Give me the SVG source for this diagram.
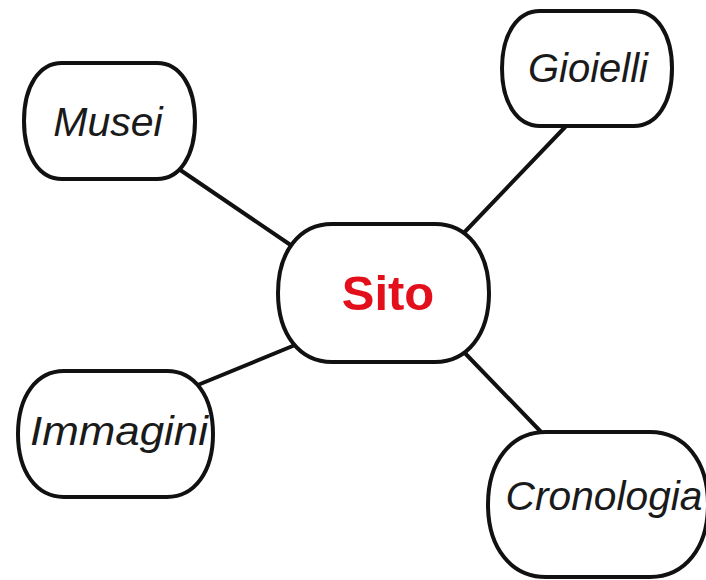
<svg xmlns="http://www.w3.org/2000/svg" width="706" height="580" viewBox="0 0 706 580">
  <style>
    .link { stroke: #111; stroke-width: 4; fill: none; stroke-linecap: round; }
    .bubble { fill: #fff; stroke: #111; stroke-width: 4; }
    .label { font-family: "Liberation Sans", Arial, sans-serif; font-style: italic; font-size: 41px; fill: #1a1a1a; text-anchor: middle; }
    .hub { font-family: "Liberation Sans", Arial, sans-serif; font-weight: bold; font-size: 49px; fill: #e3101c; text-anchor: middle; }
  </style>
  <rect width="706" height="580" fill="#fff"/>
  <g id="connectors">
    <line class="link" x1="170" y1="163" x2="295" y2="248"/>
    <line class="link" x1="568" y1="124" x2="458" y2="239"/>
    <line class="link" x1="188" y1="389" x2="300" y2="343"/>
    <line class="link" x1="543" y1="434" x2="460" y2="348"/>
  </g>
  <!-- bubbles: flat top/bottom with rounded, slightly full elliptic ends -->
  <g id="sito">
    <path class="bubble" d="M332,224 H435 C467.4,224 489,251.6 489,293 C489,334.4 467.4,362 435,362 H332 C299.6,362 278,334.4 278,293 C278,251.6 299.6,224 332,224 Z"/>
    <text class="hub" x="388" y="310">Sito</text>
  </g>
  <g id="musei">
    <path class="bubble" d="M62,63 H157 C179.8,63 195,86.2 195,121 C195,155.8 179.8,179 157,179 H62 C39.2,179 24,155.8 24,121 C24,86.2 39.2,63 62,63 Z"/>
    <text class="label" x="108" y="136">Musei</text>
  </g>
  <g id="gioielli">
    <path class="bubble" d="M540,11 H634 C656.8,11 672,34 672,68.5 C672,103 656.8,126 634,126 H540 C517.2,126 502,103 502,68.5 C502,34 517.2,11 540,11 Z"/>
    <text class="label" x="588" y="82" textLength="120" lengthAdjust="spacingAndGlyphs">Gioielli</text>
  </g>
  <g id="immagini">
    <path class="bubble" d="M64,371 H167 C194.6,371 213,396.2 213,434 C213,471.8 194.6,497 167,497 H64 C36.4,497 18,471.8 18,434 C18,396.2 36.4,371 64,371 Z"/>
    <text class="label" x="119" y="445" textLength="178" lengthAdjust="spacingAndGlyphs">Immagini</text>
  </g>
  <g id="cronologia">
    <path class="bubble" d="M546,432 H650 C684.8,432 708,461 708,504.5 C708,548 684.8,577 650,577 H546 C511.2,577 488,548 488,504.5 C488,461 511.2,432 546,432 Z"/>
    <text class="label" x="604" y="510" textLength="197" lengthAdjust="spacingAndGlyphs">Cronologia</text>
  </g>
</svg>
